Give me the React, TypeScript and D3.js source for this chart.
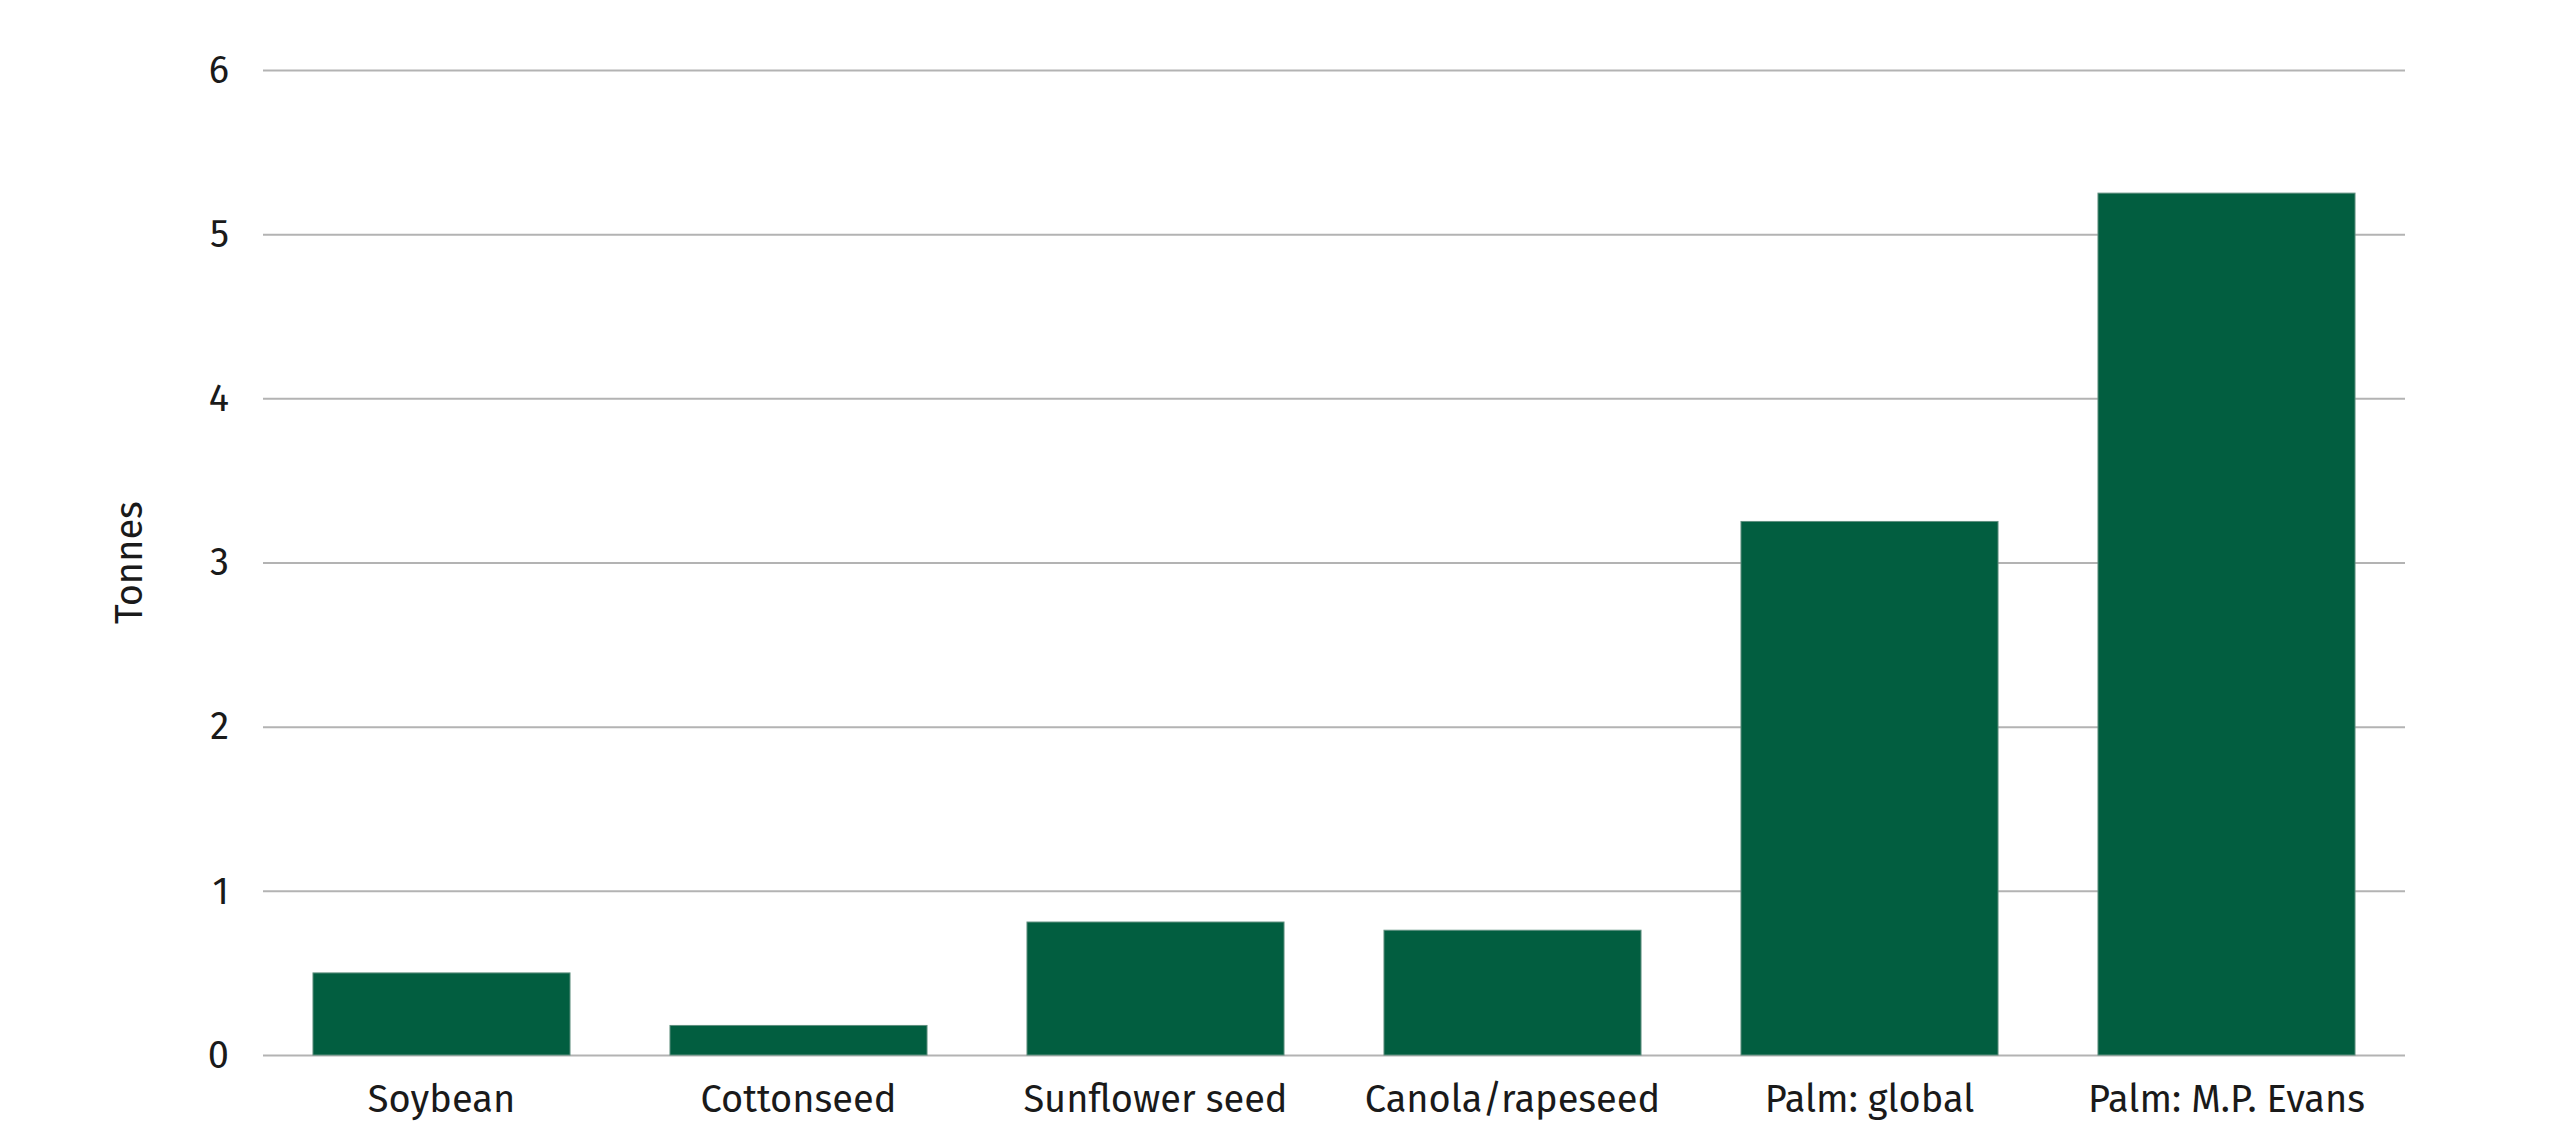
import {useEffect, useRef} from "react";
import * as d3 from "d3";

// datos del gráfico
const crops = ["Soybean", "Cottonseed", "Sunflower seed", "Canola/rapeseed", "Palm: global", "Palm: M.P. Evans"];
const tonnes = [0.5, 0.18, 0.81, 0.76, 3.25, 5.25];
const yTicks = [0, 1, 2, 3, 4, 5, 6];

const width = 2560;
const height = 1144;
const margin = {top: 70, right: 155, bottom: 89, left: 263};
const font = "'Fira Sans', 'Open Sans', sans-serif";
const fontSize = "38px";

export default function App() {
  const svgRef = useRef<SVGSVGElement>(null);

  useEffect(() => {
    if (!svgRef.current) return;
    const svg = d3.select(svgRef.current);
    svg.selectAll("*").remove();

    const x = d3
      .scaleBand()
      .domain(crops)
      .range([margin.left, width - margin.right])
      .paddingInner(0.28)
      .paddingOuter(0.14);

    const y = d3
      .scaleLinear()
      .domain([0, 6])
      .range([height - margin.bottom, margin.top]);

    // líneas de la cuadrícula + etiquetas del eje y
    const yAxis = svg
      .append("g")
      .attr("transform", `translate(${margin.left},0)`)
      .call(
        d3
          .axisLeft(y)
          .tickValues(yTicks)
          .tickFormat(d3.format("d"))
          .tickSize(-(width - margin.left - margin.right))
          .tickPadding(34),
      );
    yAxis.select(".domain").remove();
    yAxis.selectAll(".tick line").attr("stroke", "#b3b3b3").attr("stroke-width", 2);
    yAxis
      .selectAll(".tick text")
      .attr("fill", "#1a1a1a")
      .style("font-family", font)
      .style("font-size", fontSize);

    // barras
    svg
      .selectAll(".bar")
      .data(crops)
      .enter()
      .append("rect")
      .attr("class", "bar")
      .attr("x", (d) => x(d)!)
      .attr("width", x.bandwidth())
      .attr("y", (d, i) => y(tonnes[i]))
      .attr("height", (d, i) => y(0) - y(tonnes[i]))
      .attr("fill", "#025e40")
      .attr("stroke", "#5f8f7f")
      .attr("stroke-width", 1);

    // eje x (solo etiquetas)
    const xAxis = svg
      .append("g")
      .attr("transform", `translate(0,${height - margin.bottom})`)
      .call(d3.axisBottom(x).tickSize(0).tickPadding(30));
    xAxis.select(".domain").remove();
    xAxis
      .selectAll(".tick text")
      .attr("fill", "#1a1a1a")
      .style("font-family", font)
      .style("font-size", fontSize);

    // título del eje y
    svg
      .append("text")
      .attr("transform", `translate(142,${(margin.top + height - margin.bottom) / 2}) rotate(-90)`)
      .attr("text-anchor", "middle")
      .attr("fill", "#1a1a1a")
      .style("font-family", font)
      .style("font-size", fontSize)
      .text("Tonnes");
  }, []);

  return (
    <svg
      ref={svgRef}
      width={width}
      height={height}
      style={{position: "absolute", top: 0, left: 0, background: "white", display: "block"}}
    />
  );
}
